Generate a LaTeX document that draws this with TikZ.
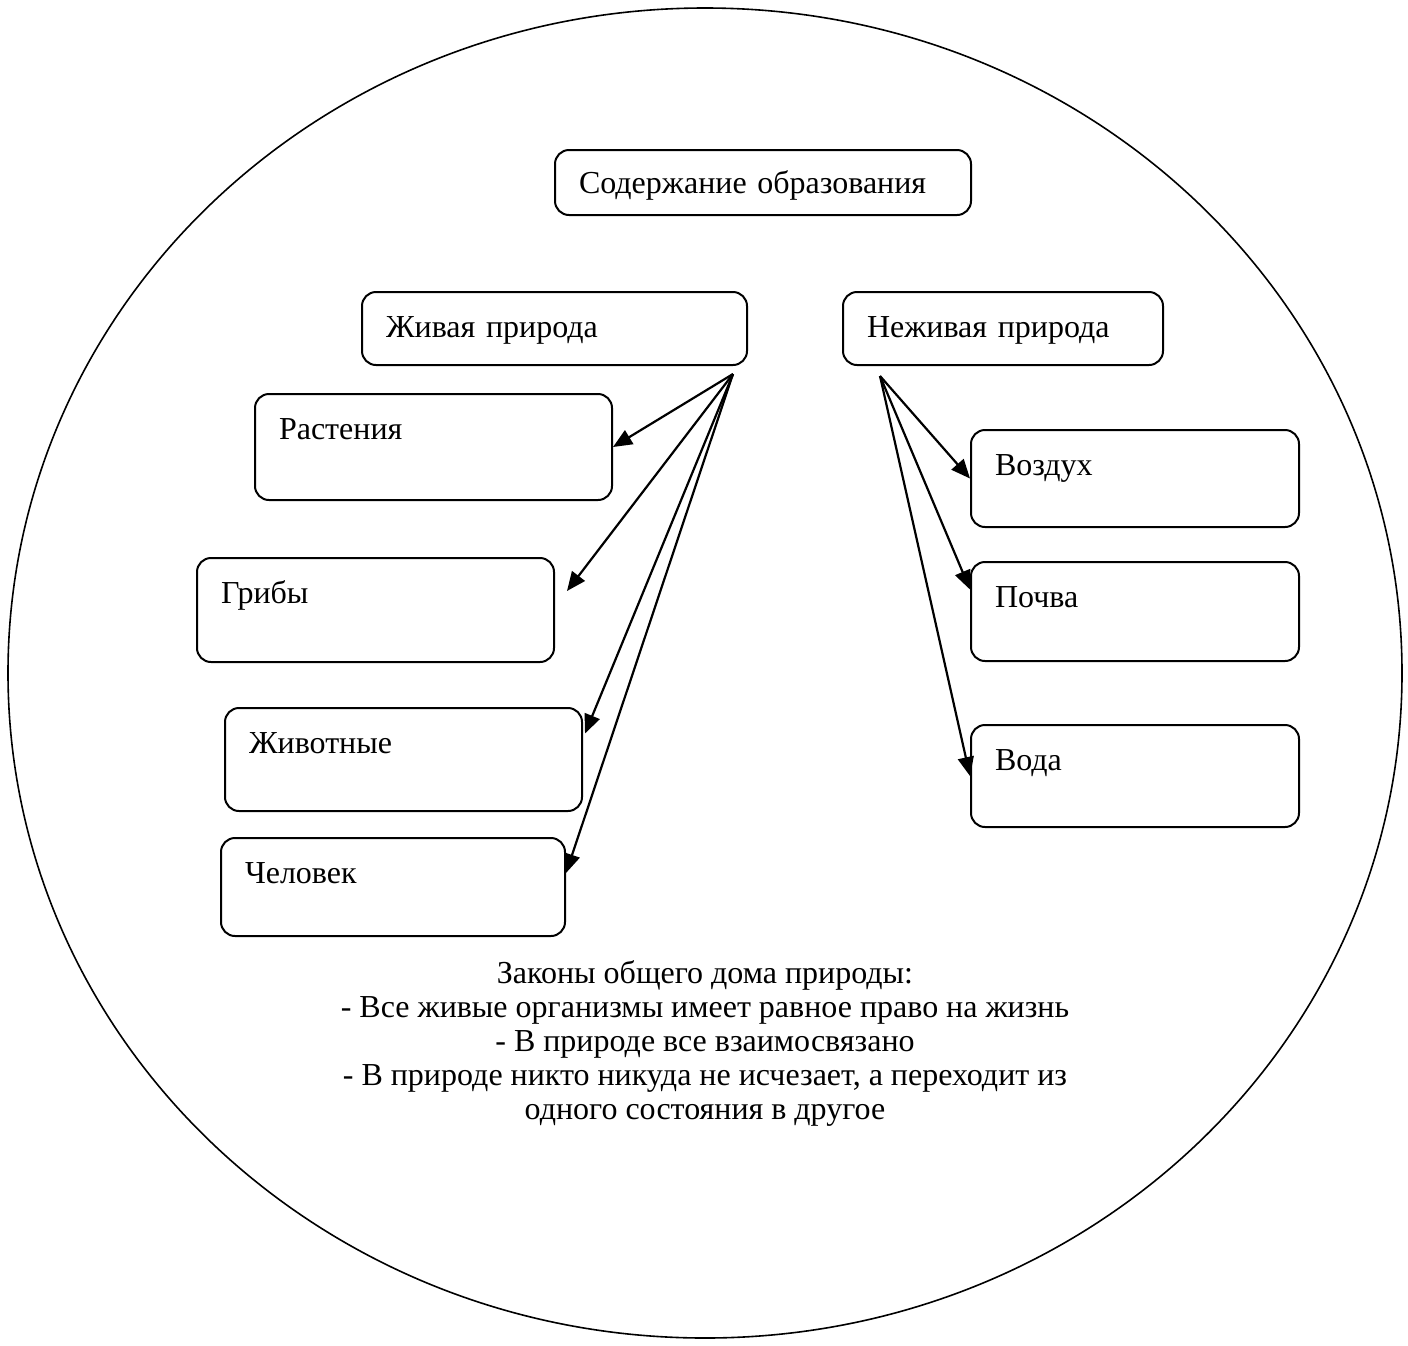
\documentclass[tikz,border=0pt]{standalone}
\usepackage{fontspec}
\setmainfont{Liberation Serif}
\usetikzlibrary{arrows.meta, positioning}
\tikzstyle{box}   = [rectangle, rounded corners=7pt, draw=black, line width=1pt, anchor=north west, align=left, inner xsep=12pt, inner ysep=8pt, text height=14.5pt]
\tikzstyle{arrow} = [line width=1.1pt, -{Triangle[length=9.5pt,width=8pt]}]
\tikzset{every node/.style={font=\fontsize{16}{17}\selectfont}}

\begin{document}
\begin{tikzpicture}[x=0.5pt, y=-0.5pt]
    \useasboundingbox (0,0) rectangle (1408,1345);
    \draw [line width=0.8pt] (705,673) ellipse [x radius=348.5pt, y radius=332.5pt];

    \node (sod)    [box, text width=184pt, text height=13.5pt, text depth=3pt] at (554,149) {Содержание образования};
    \node (zhiv)   [box, text width=168.5pt, text depth=6pt] at (361,291) {Живая природа};
    \node (nezhiv) [box, text width=136pt, text depth=6pt] at (842,291) {Неживая природа};

    \node (rast)   [box, text width=154.5pt, text depth=22.5pt] at (254,393) {Растения};
    \node (grib)   [box, text width=154.5pt, text depth=21.5pt] at (196,557) {Грибы};
    \node (zhivot) [box, text width=154.5pt, text depth=21pt] at (224,707) {Животные};
    \node (chel)   [box, text width=148pt, text depth=18.5pt] at (220,837) {Человек};

    \node (vozd)   [box, text width=140pt, text depth=18pt] at (970,429) {Воздух};
    \node (pochva) [box, text width=140pt, text depth=19pt] at (970,561) {Почва};
    \node (voda)   [box, text width=140pt, text depth=20.5pt] at (970,724) {Вода};

    % arrows
    \coordinate (zp) at (733,374);
    \coordinate (np) at (880,376);
    \draw [arrow] (zp) -- (rast.east);
    \draw [arrow] (zp) -- ([xshift=6pt, yshift=9.5pt]grib.east);
    \draw [arrow] (zp) -- ([xshift=1pt, yshift=13pt]zhivot.east);
    \draw [arrow] (zp) -- ([yshift=7pt]chel.east);
    \draw [arrow] (np) -- (vozd.west);
    \draw [arrow] (np) -- ([yshift=11pt]pochva.west);
    \draw [arrow] (np) -- (voda.west);

    \node (zakony) [align=center] at (705,1043) {Законы общего дома природы:\\- Все живые организмы имеет равное право на жизнь\\- В природе все взаимосвязано\\- В природе никто никуда не исчезает, а переходит из\\одного состояния в другое};
\end{tikzpicture}
\end{document}
